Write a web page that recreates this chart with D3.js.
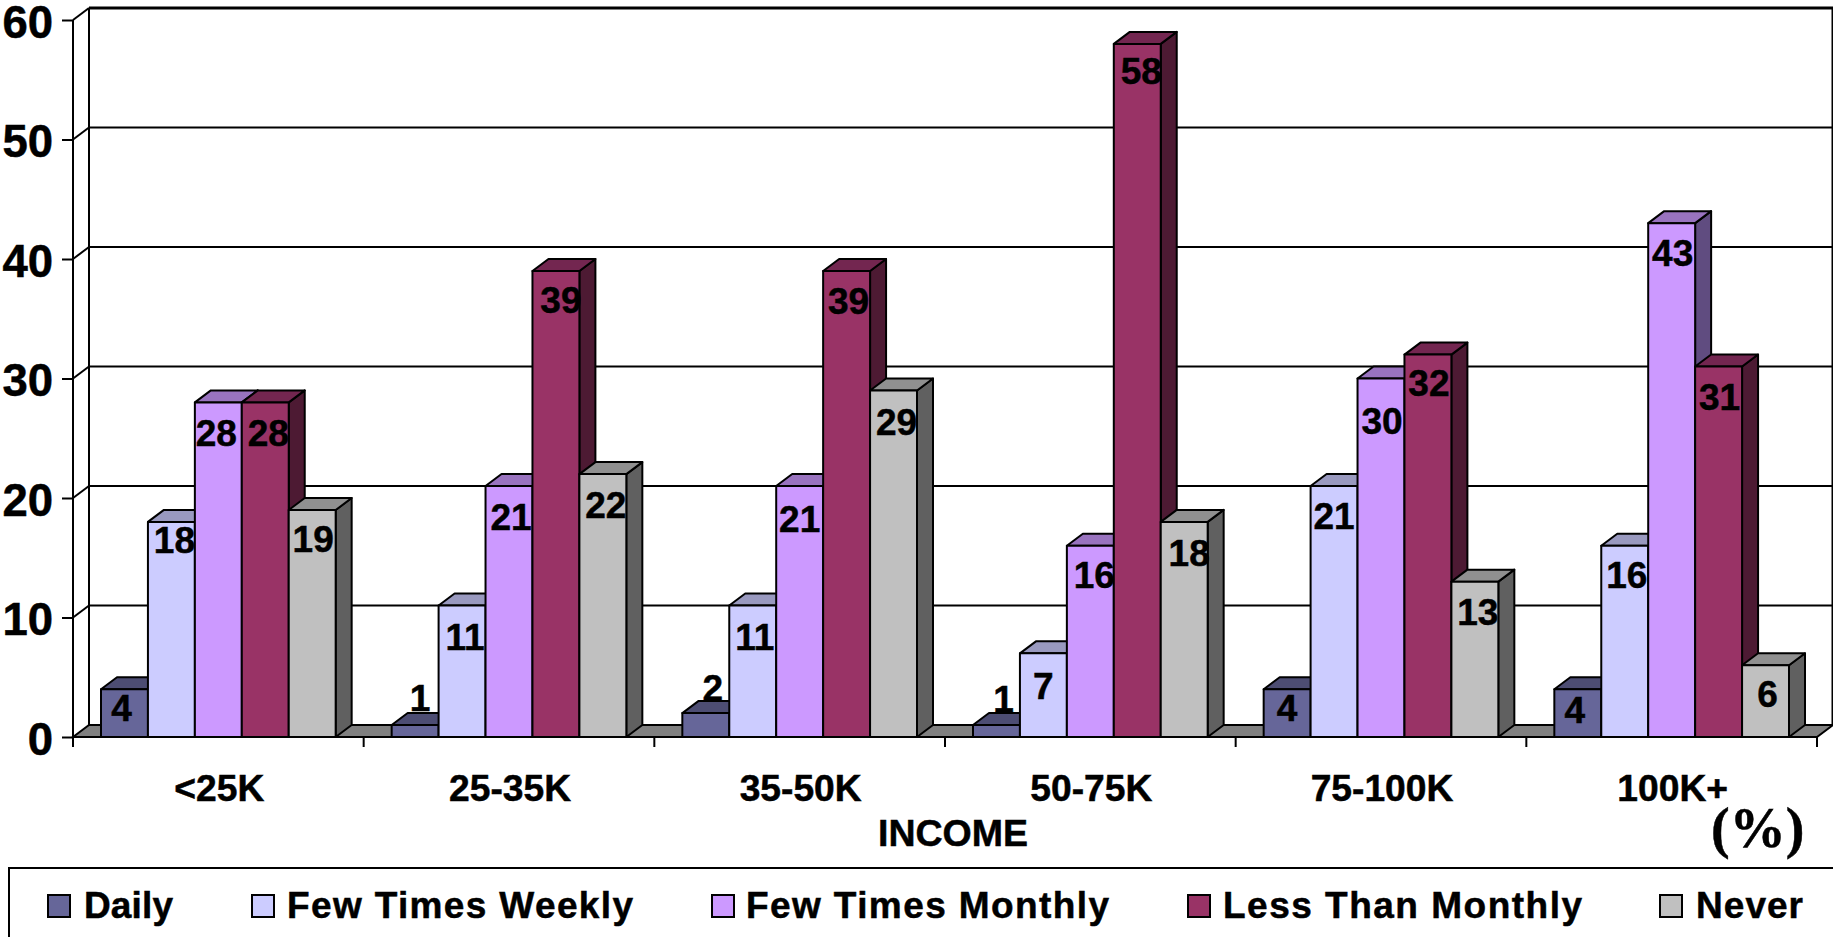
<!DOCTYPE html>
<html><head><meta charset="utf-8">
<script src="https://cdn.jsdelivr.net/npm/d3@7"></script>
<style>html,body{margin:0;padding:0;background:#fff;overflow:hidden}svg{display:block}</style>
</head><body><svg id="c" width="1833" height="937"></svg>
<script>
const categories = ["<25K","25-35K","35-50K","50-75K","75-100K","100K+"];
const seriesNames = ["Daily","Few Times Weekly","Few Times Monthly","Less Than Monthly","Never"];
const daily   = [4,1,2,1,4,4];
const weekly  = [18,11,11,7,21,16];
const monthly = [28,21,21,16,30,43];
const lessThan= [28,39,39,58,32,31];
const never   = [19,22,29,18,13,6];
const seriesValues = [daily,weekly,monthly,lessThan,never];
const yTicks = [0,10,20,30,40,50,60];

const front = ["#666699","#CCCCFF","#CC99FF","#993366","#C0C0C0"];
const top3d = ["#4d4d73","#9999bf","#9973bf","#732650","#909090"];
const side3d= ["#333350","#66667f","#604c80","#4d1a33","#606060"];
const legendX = [47,251,711,1187,1659];
const legendTextX = [84,287,746,1223,1696];
const legendTextLen = [89,346,363,359,107];

const W=1833,H=937, dx=16, dy=-12;
const x0 = d3.scaleBand().domain(categories).range([73,1817]);
const pad = 28;
const x1 = d3.scaleBand().domain(d3.range(5)).range([pad,x0.bandwidth()-pad]);
const y = d3.scaleLinear().domain([0,60]).range([737,20]);
const svg = d3.select("#c");
const font = "'Liberation Sans',Arial,sans-serif";
const heavy = sel => sel.attr("stroke","#000").attr("stroke-width",0.5);

// walls and floor
const xL=73,xR=1817,yB=y(0),yT=y(60);
svg.append("polygon").attr("points",[[xL,yB],[xL+dx,yB+dy],[xR+dx,yB+dy],[xR,yB]].join(" "))
  .attr("fill","#808080").attr("stroke","#000").attr("stroke-width",2);
const grid = svg.append("g");
yTicks.forEach(t=>{
  if(t===0) return;
  grid.append("line").attr("x1",xL+dx).attr("x2",xR+dx).attr("y1",y(t)+dy).attr("y2",y(t)+dy)
    .attr("stroke","#000").attr("stroke-width",t===60?3:2);
  grid.append("line").attr("x1",xL).attr("x2",xL+dx).attr("y1",y(t)).attr("y2",y(t)+dy)
    .attr("stroke","#000").attr("stroke-width",2);
});
grid.append("line").attr("x1",xL+dx).attr("x2",xL+dx).attr("y1",yT+dy).attr("y2",yB+dy).attr("stroke","#000").attr("stroke-width",2);
grid.append("line").attr("x1",xR+dx-0.5).attr("x2",xR+dx-0.5).attr("y1",yT+dy).attr("y2",yB+dy).attr("stroke","#000").attr("stroke-width",2);

// axes
const yAxis = d3.axisLeft(y).tickValues(yTicks).tickSize(11).tickPadding(9);
const gy = svg.append("g").attr("transform",`translate(${xL},0)`).call(yAxis);
gy.selectAll("text").attr("font-family",font).attr("font-weight","bold").attr("font-size",45.5).attr("fill","#000").attr("dy","0.38em").call(heavy);
gy.selectAll("line").attr("stroke","#000").attr("stroke-width",2);
gy.select(".domain").attr("stroke","#000").attr("stroke-width",2).attr("d",`M0,${yT}V${yB}`);

const xAxis = d3.axisBottom(x0).tickSize(0).tickPadding(38);
const gx = svg.append("g").attr("transform",`translate(0,${yB})`).call(xAxis);
gx.select(".domain").attr("stroke","#000").attr("stroke-width",2).attr("d",`M${xL},0H${xR}`);
gx.selectAll("text").attr("font-family",font).attr("font-weight","bold").attr("font-size",37.2).attr("fill","#000").attr("dx","1").call(heavy);
[...categories.map(c=>x0(c)),xR].forEach(v=>{
  gx.append("line").attr("x1",v).attr("x2",v).attr("y1",0).attr("y2",10).attr("stroke","#000").attr("stroke-width",2);
});

// bars
const bars = svg.append("g");
categories.forEach((c,ci)=>{
  seriesValues.forEach((vals,si)=>{
    const v=vals[ci], a=x0(c)+x1(si), b=a+x1.bandwidth(), t=y(v), g=bars.append("g");
    const st={stroke:"#000","stroke-width":2,"stroke-linejoin":"round"};
    const add=(pts,fill)=>{const p=g.append("polygon").attr("points",pts.join(" ")).attr("fill",fill);for(const k in st)p.attr(k,st[k]);};
    add([[b,t],[b+dx,t+dy],[b+dx,yB+dy],[b,yB]],side3d[si]);
    add([[a,t],[a+dx,t+dy],[b+dx,t+dy],[b,t]],top3d[si]);
    add([[a,t],[b,t],[b,yB],[a,yB]],front[si]);
  });
});

// value labels: offset from the top centre of each bar's front face
const labelNudge = {
 "0|0":[-3,18],"0|1":[3,18],"0|2":[-2,30],"0|3":[3,30],"0|4":[1,29],
 "1|0":[5,-27],"1|1":[3,31],"1|2":[2,31],"1|3":[5,29],"1|4":[3,31],
 "2|0":[7,-25],"2|1":[2,31],"2|2":[0,33],"2|3":[2,30],"2|4":[3,31],
 "3|0":[7,-26],"3|1":[0,32],"3|2":[4,29],"3|3":[4,27],"3|4":[5,31],
 "4|0":[0,18],"4|1":[0,30],"4|2":[1,42],"4|3":[1,28],"4|4":[3,30],
 "5|0":[-3,20],"5|1":[2,29],"5|2":[1,30],"5|3":[1,30],"5|4":[2,28]
};
const labels = svg.append("g");
categories.forEach((c,ci)=>{
  seriesValues.forEach((vals,si)=>{
    const v=vals[ci],n=labelNudge[ci+"|"+si];
    labels.append("text").attr("x",x0(c)+x1(si)+x1.bandwidth()/2+n[0]).attr("y",y(v)+n[1])
      .attr("dy","0.36em").attr("text-anchor","middle").attr("font-family",font).attr("font-weight","bold")
      .attr("font-size",37).attr("fill","#000").call(heavy).text(v);
  });
});

// titles
svg.append("text").attr("x",953).attr("y",846).attr("text-anchor","middle").attr("font-family",font)
  .attr("font-weight","bold").attr("font-size",37.5).call(heavy).text("INCOME");
svg.append("text").attr("x",1711).attr("y",847).attr("font-family","'Liberation Serif','Times New Roman',serif")
  .attr("font-weight","bold").attr("font-size",56).call(heavy).text("(%)");

// legend
svg.append("rect").attr("x",9).attr("y",868).attr("width",W+20).attr("height",H).attr("fill","none").attr("stroke","#000").attr("stroke-width",2);
seriesNames.forEach((s,i)=>{
  svg.append("rect").attr("x",legendX[i]+1).attr("y",895).attr("width",22).attr("height",22)
    .attr("fill",front[i]).attr("stroke","#000").attr("stroke-width",2);
  svg.append("text").attr("x",legendTextX[i]).attr("y",918).attr("font-family",font).attr("font-weight","bold")
    .attr("font-size",37).attr("textLength",legendTextLen[i]).attr("lengthAdjust","spacing").attr("fill","#000").call(heavy).text(s);
});
</script></body></html>
